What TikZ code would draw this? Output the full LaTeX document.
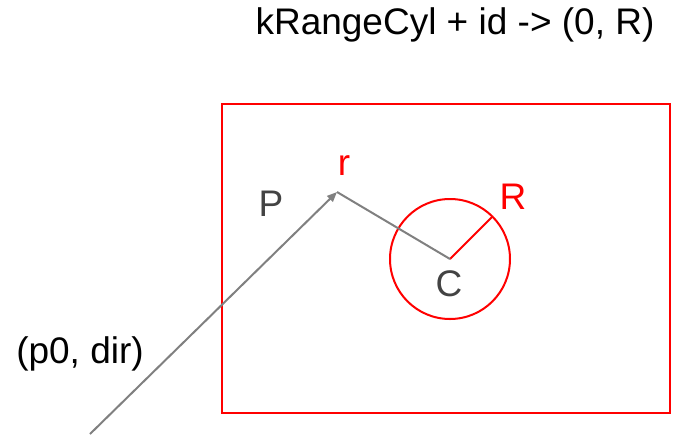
\documentclass[tikz,border=0pt]{standalone}
\usepackage{fontspec}
\setmainfont{Liberation Sans}
\usetikzlibrary{arrows.meta}
\definecolor{labelgray}{RGB}{67,67,67}
\tikzset{
  txt/.style={inner sep=0pt, font=\fontsize{37}{42}\selectfont},
  ray/.style={draw=gray, line width=2pt},
  redline/.style={draw=red, line width=2pt}
}
\begin{document}
\begin{tikzpicture}[x=1pt, y=-1pt]
  \useasboundingbox (0,0) rectangle (675,437);
  % title
  \node[txt] (title) at (455,25) {kRangeCyl + id -> (0, R)};
  % box and cylinder
  \draw[redline] (222,104) rectangle (670,413);
  \coordinate (c) at (450,259);
  \draw[redline] (c) circle (60);
  \coordinate (rim) at (492,217);
  \draw[redline] (c) -- (rim);
  % ray
  \coordinate (p0) at (90,434);
  \coordinate (r) at (337,192);
  \draw[ray, -{Triangle[length=10pt, width=8pt]}] (p0) -- (r);
  \draw[ray] (r) -- (c);
  % labels
  \node[txt, text=red] (rlab) at (344,166) {r};
  \node[txt, text=labelgray] (plab) at (271,204) {P};
  \node[txt, text=red] (Rlab) at (513,197) {R};
  \node[txt, text=labelgray] (clab) at (449,284) {C};
  \node[txt] (p0lab) at (80,354) {(p0, dir)};
\end{tikzpicture}
\end{document}
